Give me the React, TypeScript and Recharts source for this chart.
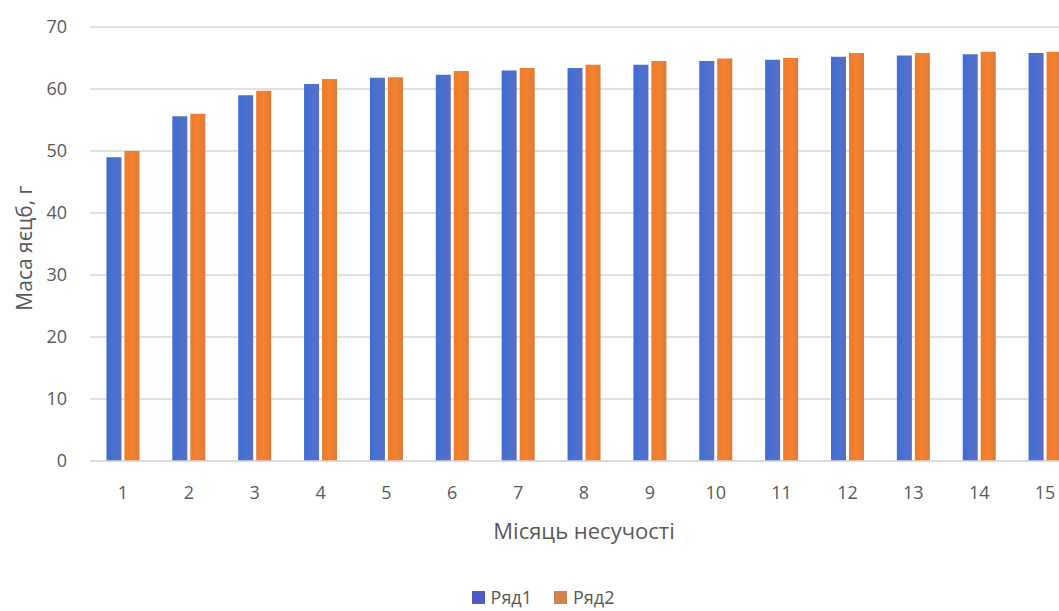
import React from 'react';
import { BarChart, Bar, XAxis, YAxis, CartesianGrid, Legend, Label } from 'recharts';

const months = ['1', '2', '3', '4', '5', '6', '7', '8', '9', '10', '11', '12', '13', '14', '15'];
const row1 = [49.0, 55.6, 59.0, 60.8, 61.8, 62.3, 63.0, 63.4, 63.9, 64.5, 64.7, 65.2, 65.4, 65.6, 65.8];
const row2 = [50.0, 56.0, 59.7, 61.6, 61.9, 62.9, 63.4, 63.9, 64.5, 64.9, 65.0, 65.8, 65.8, 66.0, 66.0];
const yTicks = [0, 10, 20, 30, 40, 50, 60, 70];
const seriesNames = ['Ряд1', 'Ряд2'];
const yTitle = 'Маса яєцб, г';
const xTitle = 'Місяць несучості';

const data = months.map((m, i) => ({ month: m, r1: row1[i], r2: row2[i] }));

const FONT = '"Open Sans", sans-serif';
const TEXT = '#595959';
const legendColors = ['#5058C4', '#D0844E'];

const LegendContent = (props: any) => {
  const payload = props.payload || [];
  return (
    <div style={{ display: 'flex', justifyContent: 'center', alignItems: 'center', fontFamily: FONT, fontSize: 18, color: TEXT, lineHeight: '22px' }}>
      {payload.map((p: any, i: number) => (
        <div key={i} style={{ display: 'flex', alignItems: 'center', marginLeft: i ? 22 : 0 }}>
          <svg width={13} height={13} style={{ marginRight: 6 }}>
            <rect x={0} y={0} width={13} height={13} fill={legendColors[i]} />
          </svg>
          <span>{p.value}</span>
        </div>
      ))}
    </div>
  );
};

export default function App() {
  return (
    <div style={{ position: 'absolute', left: 0, top: 0, width: 1059, height: 611, overflow: 'hidden', background: '#fff' }}>
      <BarChart
        width={1090}
        height={611}
        data={data}
        margin={{ top: 27, right: 12, left: 0, bottom: 80 }}
        barCategoryGap="25%"
        barGap={3}
      >
        <defs>
          <linearGradient id="gBlue" x1="0" y1="0" x2="1" y2="0">
            <stop offset="0%" stopColor="#3F6BD8" />
            <stop offset="50%" stopColor="#4A72CC" />
            <stop offset="100%" stopColor="#5A6CC8" />
          </linearGradient>
          <linearGradient id="gOrange" x1="0" y1="0" x2="1" y2="0">
            <stop offset="0%" stopColor="#F07A2A" />
            <stop offset="50%" stopColor="#F3822F" />
            <stop offset="100%" stopColor="#E07A3A" />
          </linearGradient>
        </defs>
        <CartesianGrid horizontal vertical={false} stroke="#D9D9D9" strokeWidth={1.3} />
        <XAxis
          dataKey="month"
          height={70}
          axisLine={{ stroke: '#D9D9D9', strokeWidth: 1.3 }}
          tickLine={false}
          tickSize={0}
          tickMargin={25}
          tick={{ fill: TEXT, fontSize: 18, fontFamily: FONT }}
          interval={0}
        >
          <Label
            content={(p: any) => {
              const vb = p.viewBox;
              return (
                <text
                  x={vb.x + vb.width / 2}
                  y={530}
                  textAnchor="middle"
                  dominantBaseline="central"
                  fill={TEXT}
                  fontSize={22}
                  fontFamily={FONT}
                >
                  {xTitle}
                </text>
              );
            }}
          />
        </XAxis>
        <YAxis
          width={90}
          domain={[0, 70]}
          ticks={yTicks}
          axisLine={false}
          tickLine={false}
          tickSize={0}
          tickMargin={23}
          tick={{ fill: TEXT, fontSize: 18, fontFamily: FONT }}
        >
          <Label
            content={(p: any) => {
              const vb = p.viewBox;
              const cy = vb.y + vb.height / 2 + 4;
              return (
                <text
                  x={24}
                  y={cy}
                  transform={`rotate(-90, 24, ${cy})`}
                  textAnchor="middle"
                  dominantBaseline="central"
                  fill={TEXT}
                  fontSize={21}
                  fontFamily={FONT}
                >
                  {yTitle}
                </text>
              );
            }}
          />
        </YAxis>
        <Legend
          layout="horizontal"
          verticalAlign="middle"
          align="center"
          content={<LegendContent />}
          wrapperStyle={{ top: 586, left: 0, width: 1086 }}
        />
        <Bar dataKey="r1" name={seriesNames[0]} fill="url(#gBlue)" isAnimationActive={false} legendType="square" />
        <Bar dataKey="r2" name={seriesNames[1]} fill="url(#gOrange)" isAnimationActive={false} legendType="square" />
      </BarChart>
    </div>
  );
}
